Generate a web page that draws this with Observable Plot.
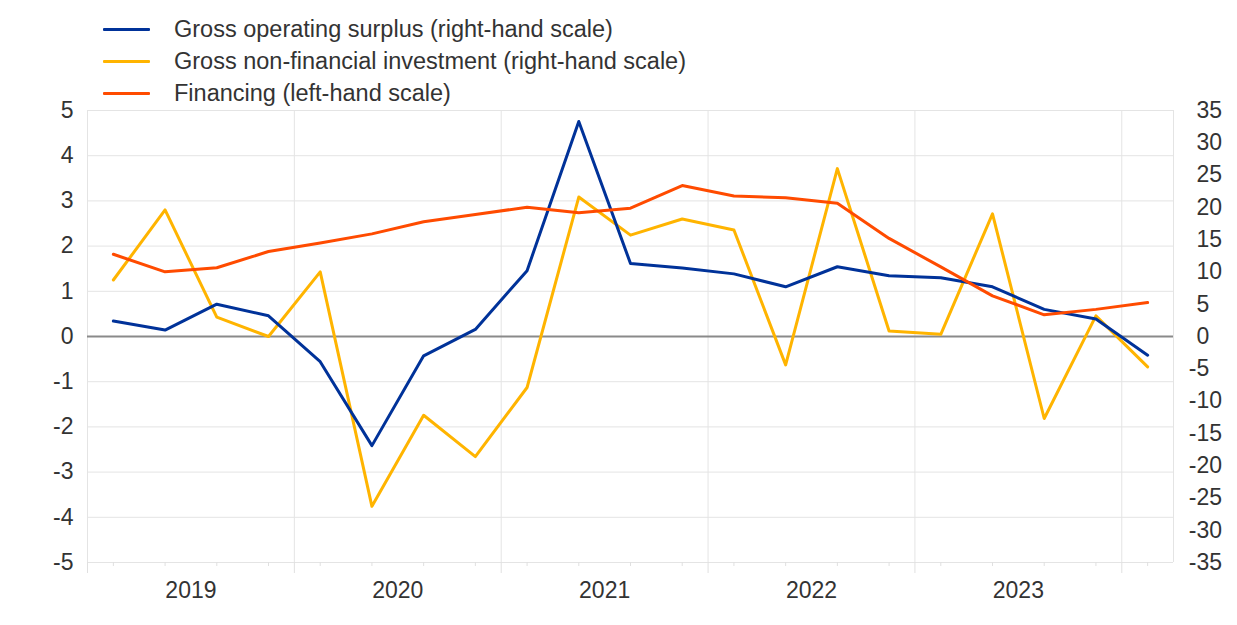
<!DOCTYPE html>
<html>
<head>
<meta charset="utf-8">
<script src="https://cdn.jsdelivr.net/npm/d3@7"></script>
<script src="https://cdn.jsdelivr.net/npm/@observablehq/plot@0.6"></script>
<style>
  body { margin: 0; background: white; font-family: "Liberation Sans", Arial, sans-serif; }
  #wrap { position: relative; width: 1237px; height: 625px; overflow: hidden; }
  #legend { position: relative; height: 100px; z-index: 2; }
  .item { position: absolute; left: 0; height: 30px; }
  .sw { position: absolute; left: 103px; width: 47px; height: 3px; border-radius: 1px; }
  .lab { position: absolute; left: 174px; white-space: nowrap; font-size: 23.5px; color: #333; line-height: 30px; top: 0; }
  #chart svg { display: block; }
</style>
</head>
<body>
<div id="wrap">
  <div id="legend"></div>
  <div id="chart"></div>
</div>
<script>
// Quarters 2019Q1 .. 2024Q1
const quarters = ["2019Q1","2019Q2","2019Q3","2019Q4","2020Q1","2020Q2","2020Q3","2020Q4",
  "2021Q1","2021Q2","2021Q3","2021Q4","2022Q1","2022Q2","2022Q3","2022Q4",
  "2023Q1","2023Q2","2023Q3","2023Q4","2024Q1"];
// Right-hand scale series
const grossOperatingSurplus = [2.4, 1.0, 5.0, 3.2, -3.9, -16.9, -3.0, 1.1, 10.2, 33.3, 11.3, 10.6, 9.7, 7.7, 10.8, 9.4, 9.1, 7.7, 4.2, 2.7, -2.9];
const grossInvestment = [8.75, 19.6, 3.0, 0.0, 10.0, -26.3, -12.2, -18.6, -7.9, 21.6, 15.7, 18.2, 16.5, -4.4, 26.0, 0.85, 0.34, 19.0, -12.7, 3.2, -4.7];
// Left-hand scale series
const financing = [1.82, 1.43, 1.52, 1.88, 2.07, 2.27, 2.54, 2.70, 2.86, 2.74, 2.84, 3.34, 3.11, 3.07, 2.95, 2.17, 1.54, 0.90, 0.48, 0.60, 0.75];

const seriesNames = ["Gross operating surplus (right-hand scale)", "Gross non-financial investment (right-hand scale)", "Financing (left-hand scale)"];
const seriesColors = ["#003299", "#FFB400", "#FF4B00"];
const years = ["2019", "2020", "2021", "2022", "2023"];
const leftTicks = [-5, -4, -3, -2, -1, 0, 1, 2, 3, 4, 5];
const rightTicks = [-35, -30, -25, -20, -15, -10, -5, 0, 5, 10, 15, 20, 25, 30, 35];
const ratio = 35 / 5; // right scale / left scale

// Build legend
const legend = document.getElementById("legend");
const rowY = [14, 46, 78];
seriesNames.forEach((name, k) => {
  const it = document.createElement("div");
  it.className = "item";
  it.style.top = rowY[k] + "px";
  it.style.width = "1000px";
  it.innerHTML = `<span class="sw" style="background:${seriesColors[k]};top:13.5px"></span><span class="lab">${name}</span>`;
  legend.appendChild(it);
});

// Quarter position: centre of band i -> i + 0.5
const qx = quarters.map((q, i) => i + 0.5);
const gos = quarters.map((q, i) => ({x: qx[i], y: grossOperatingSurplus[i] / ratio}));
const inv = quarters.map((q, i) => ({x: qx[i], y: grossInvestment[i] / ratio}));
const fin = quarters.map((q, i) => ({x: qx[i], y: financing[i]}));

const yearBounds = years.map((y, k) => k * 4).concat([years.length * 4]);
const yearCenters = years.map((y, k) => k * 4 + 2);
const fmt = d => (d < 0 ? "-" : "") + Math.abs(d);
const blank = () => "";

const chart = Plot.plot({
  width: 1237,
  height: 525,
  marginTop: 10,
  marginBottom: 63,
  marginLeft: 87,
  marginRight: 64,
  style: {background: "transparent", overflow: "visible", fontFamily: "Liberation Sans, Arial, sans-serif", fontSize: "23px", color: "#333"},
  x: {domain: [0, quarters.length], axis: null, label: null},
  y: {domain: [-5, 5], axis: null, label: null},
  marks: [
    Plot.gridY(leftTicks, {stroke: "#e4e4e4", strokeOpacity: 1, strokeWidth: 1}),
    Plot.gridX(yearBounds.concat([quarters.length]), {stroke: "#e4e4e4", strokeOpacity: 1, strokeWidth: 1}),
    Plot.axisX(yearBounds, {tickSize: 11, tickFormat: blank, label: null, stroke: "#e0e0e0", strokeOpacity: 1}),
    Plot.axisX(qx, {tickSize: 4, tickFormat: blank, label: null, stroke: "#e0e0e0", strokeOpacity: 1}),
    Plot.axisX(yearCenters, {tickSize: 0, tickPadding: 19, label: null, tickFormat: d => years[(d - 2) / 4], fill: "#333", fontSize: 23}),
    Plot.axisY(leftTicks, {anchor: "left", tickSize: 0, tickPadding: 14, label: null, tickFormat: fmt, fill: "#333", fontSize: 23}),
    Plot.text(rightTicks, {y: d => d / ratio, text: d => String(Math.abs(d)), frameAnchor: "right", textAnchor: "start", dx: 23, fill: "#333", fontSize: 23}),
    Plot.text(rightTicks.filter(d => d < 0), {y: d => d / ratio, text: d => "-", frameAnchor: "right", textAnchor: "end", dx: 23, fill: "#333", fontSize: 23}),
    Plot.ruleY([0], {stroke: "#8a8a8a", strokeWidth: 2}),
    Plot.line(inv, {x: "x", y: "y", stroke: seriesColors[1], strokeWidth: 3}),
    Plot.line(gos, {x: "x", y: "y", stroke: seriesColors[0], strokeWidth: 3}),
    Plot.line(fin, {x: "x", y: "y", stroke: seriesColors[2], strokeWidth: 3})
  ]
});
document.getElementById("chart").appendChild(chart);
</script>
</body>
</html>
